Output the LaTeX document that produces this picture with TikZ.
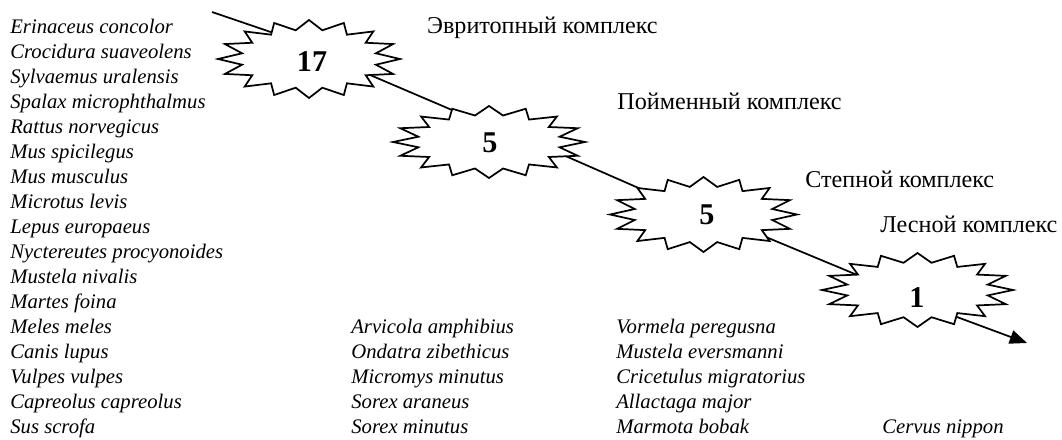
\documentclass[tikz,border=0pt]{standalone}
\usepackage{fontspec}
\setmainfont{Liberation Serif}
\usetikzlibrary{arrows.meta}
\newcommand\burst[4]{%
  \draw[starshape] (#1,#2-#4)
    \foreach \k in {0,...,15}{
      -- ({#1+0.75*#3*sin(22.5*\k+11.25)},{#2-0.75*#4*cos(22.5*\k+11.25)})
      -- ({#1+#3*sin(22.5*\k+22.5)},{#2-#4*cos(22.5*\k+22.5)})
    } -- cycle;}
\begin{document}
\fontsize{12}{14.4}\selectfont
\begin{tikzpicture}[x=0.58pt,y=-0.58pt,
  species/.style={font=\itshape, anchor=base west, inner sep=0pt},
  complex/.style={font=\fontsize{14}{16}\selectfont, anchor=base west, inner sep=0pt},
  num/.style={font=\fontsize{17.5}{20}\selectfont\bfseries, inner sep=0pt},
  link/.style={line width=1pt, black},
  starshape/.style={line width=1pt, fill=white, line join=miter}]
\useasboundingbox (0,0) rectangle (1062,439);

% connector coordinates
\coordinate (start) at (212,12);
\coordinate (s1in) at (300,42);
\coordinate (s1out) at (360,70.7);
\coordinate (s2in) at (470,117.7);
\coordinate (s2out) at (555,151.4);
\coordinate (s3in) at (660,197.4);
\coordinate (s3out) at (757,233.3);
\coordinate (s4in) at (865,278.2);
\coordinate (s4out) at (940,310.7);
\coordinate (end) at (1027,343);

\draw[link] (start) -- (s1in);
\draw[link] (s1out) -- (s2in);
\draw[link] (s2out) -- (s3in);
\draw[link] (s3out) -- (s4in);
\draw[link, -{Triangle[length=10pt,width=8pt]}] (s4out) -- (end);

% stars
\burst{309}{59}{91}{39}
\burst{489}{142}{96}{36}
\burst{703.5}{214.5}{93.5}{37.5}
\burst{917.5}{290}{95.5}{37}

\node[num] (s1) at (312,62) {17};
\node[num] (s2) at (490,143) {5};
\node[num] (s3) at (707,215) {5};
\node[num] (s4) at (917,298) {1};

% complex labels
\node[complex, anchor=base east] (c1) at (658,33) {Эвритопный комплекс};
\node[complex] (c2) at (617,109) {Пойменный комплекс};
\node[complex] (c3) at (805,187) {Степной комплекс};
\node[complex] (c4) at (880,232) {Лесной комплекс};

% species lists
\foreach \name [count=\i] in {Erinaceus concolor, Crocidura suaveolens, Sylvaemus uralensis,
  Spalax microphthalmus, Rattus norvegicus, Mus spicilegus, Mus musculus, Microtus levis,
  Lepus europaeus, Nyctereutes procyonoides, Mustela nivalis, Martes foina, Meles meles,
  Canis lupus, Vulpes vulpes, Capreolus capreolus, Sus scrofa}
  \node[species] (l\i) at (10,{33+25*(\i-1)}) {\name};

\foreach \name [count=\i] in {Arvicola amphibius, Ondatra zibethicus, Micromys minutus,
  Sorex araneus, Sorex minutus}
  \node[species] (m\i) at (351,{333+25*(\i-1)}) {\name};

\foreach \name [count=\i] in {Vormela peregusna, Mustela eversmanni, Cricetulus migratorius,
  Allactaga major, Marmota bobak}
  \node[species] (r\i) at (616,{333+25*(\i-1)}) {\name};

\node[species] (cn) at (882,433) {Cervus nippon};
\end{tikzpicture}
\end{document}
